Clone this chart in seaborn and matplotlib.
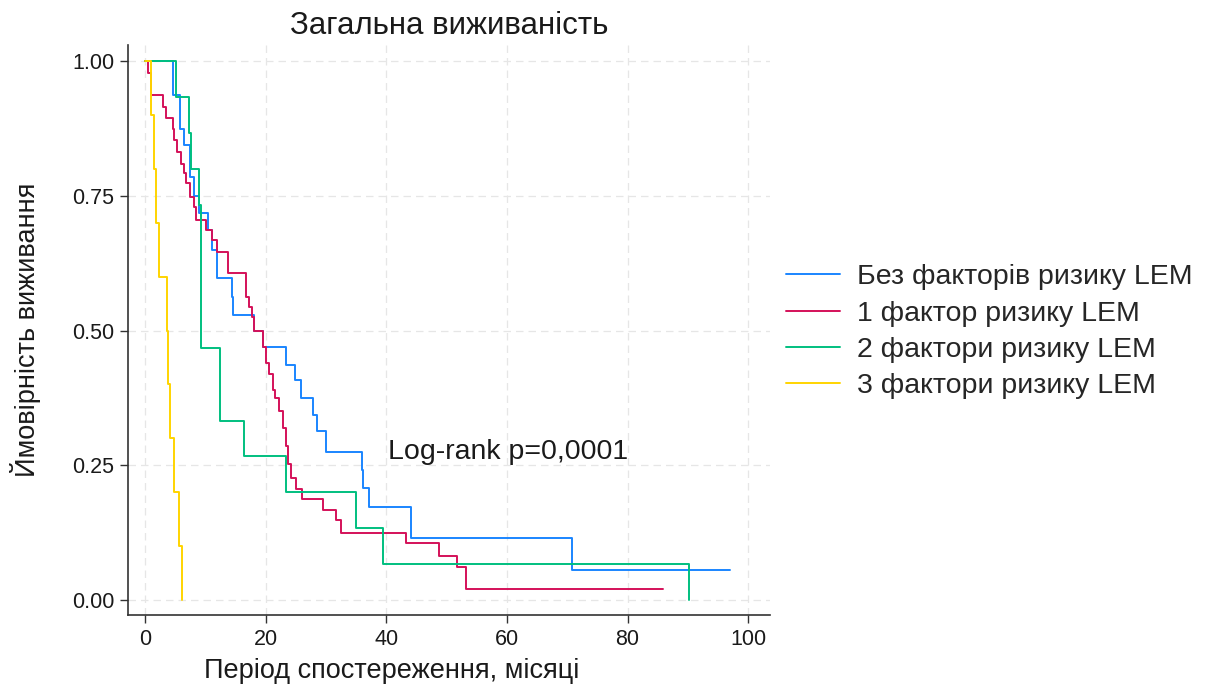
import numpy as np
import pandas as pd
import matplotlib
matplotlib.use("Agg")
import matplotlib.pyplot as plt
import seaborn as sns

# ---- data ----
groups = ["Без факторів ризику LEM", "1 фактор ризику LEM",
          "2 фактори ризику LEM", "3 фактори ризику LEM"]
colors = ["#1a85ff", "#d41159", "#00bf7f", "#ffd400"]

blue_t = [0, 4.6, 5.9, 6.5, 7.4, 8.2, 9.0, 10.4, 11.2, 12.0, 14.5, 14.6, 18.0, 19.5,
          23.4, 24.8, 25.9, 27.8, 28.6, 30.0, 35.9, 36.1, 37.2, 44.1, 70.8, 97.0]
blue_s = [1.0, 0.937, 0.875, 0.845, 0.785, 0.75, 0.718, 0.686, 0.65, 0.597, 0.563, 0.529,
          0.5, 0.469, 0.436, 0.408, 0.375, 0.343, 0.314, 0.275, 0.241, 0.207, 0.173,
          0.114, 0.056, 0.056]

red_t = [0, 0.5, 1.0, 3.0, 3.5, 4.6, 4.9, 5.4, 6.0, 6.5, 6.8, 7.4, 8.2, 8.5, 10.1, 11.2,
         12.0, 13.8, 16.7, 17.3, 17.8, 18.1, 19.5, 20.1, 20.6, 21.2, 21.5, 22.3, 22.9,
         23.4, 23.7, 24.2, 25.1, 26.0, 29.5, 31.7, 32.5, 43.2, 48.8, 51.7, 53.2, 85.9]
red_s = [1.0, 0.978, 0.937, 0.915, 0.894, 0.875, 0.853, 0.832, 0.81, 0.792, 0.773, 0.748,
         0.73, 0.705, 0.686, 0.668, 0.646, 0.607, 0.563, 0.544, 0.526, 0.5, 0.47, 0.44,
         0.42, 0.39, 0.375, 0.35, 0.32, 0.285, 0.253, 0.226, 0.206, 0.188, 0.167, 0.148,
         0.124, 0.105, 0.082, 0.062, 0.02, 0.02]

green_t = [0, 5.2, 7.3, 7.7, 9.0, 9.3, 12.5, 16.5, 23.4, 35.0, 39.4, 90.2]
green_s = [1.0, 0.933, 0.867, 0.8, 0.733, 0.467, 0.333, 0.267, 0.2, 0.133, 0.067, 0.0]

yellow_t = [0, 1.0, 1.5, 1.9, 2.4, 3.7, 3.9, 4.2, 4.9, 5.7, 6.2]
yellow_s = [1.0, 0.9, 0.8, 0.7, 0.6, 0.5, 0.4, 0.3, 0.2, 0.1, 0.0]

x_ticks = [0, 20, 40, 60, 80, 100]
y_ticks = [0.0, 0.25, 0.5, 0.75, 1.0]
y_ticklabels = ["0.00", "0.25", "0.50", "0.75", "1.00"]

title = "Загальна виживаність"
xlabel = "Період спостереження, місяці"
ylabel = "Ймовірність виживання"
annot = "Log-rank p=0,0001"

# ---- build long table ----
frames = []
for g, t, s in zip(groups, [blue_t, red_t, green_t, yellow_t],
                   [blue_s, red_s, green_s, yellow_s]):
    frames.append(pd.DataFrame({"time": t, "surv": s, "group": g}))
df = pd.concat(frames, ignore_index=True)

sns.set_theme(style="white")
plt.rcParams["font.family"] = ["Liberation Sans", "DejaVu Sans"]

fig = plt.figure(figsize=(12.08, 6.95), dpi=100)
ax = fig.add_axes([128 / 1208, 1 - 615 / 695, (770 - 128) / 1208, (615 - 45) / 695])

sns.lineplot(data=df, x="time", y="surv", hue="group", hue_order=groups,
             palette=colors, drawstyle="steps-post", estimator=None, sort=False,
             linewidth=1.4, ax=ax)

ax.set_xlim(-2.8, 103.6)
ax.set_ylim(-0.028, 1.03)
ax.set_xticks(x_ticks)
ax.set_yticks(y_ticks)
ax.set_yticklabels(y_ticklabels)
ax.tick_params(axis="both", labelsize=15.5, length=6, width=1, direction="out",
               color="#333333", labelcolor="#1a1a1a", left=True, bottom=True, pad=4)

ax.grid(True, color="#e6e6e6", linestyle=(0, (6, 4)), linewidth=0.9)
ax.set_axisbelow(True)
for side in ["top", "right"]:
    ax.spines[side].set_visible(False)
for side in ["left", "bottom"]:
    ax.spines[side].set_color("#333333")
    ax.spines[side].set_linewidth(1.2)

ax.set_title(title, fontsize=22.5, color="#1a1a1a", pad=8)
ax.set_xlabel(xlabel, fontsize=19.5, color="#1a1a1a", labelpad=6)
ax.set_ylabel(ylabel, fontsize=19.5, color="#1a1a1a", labelpad=22)
ax.xaxis.set_label_coords(0.41, -0.075)

ax.text(40.3, 0.275, annot, fontsize=20.5, color="#1a1a1a", va="center", ha="left")

sns.move_legend(ax, "center left", bbox_to_anchor=(1.025, 0.497), frameon=False,
                title=None, fontsize=20.5, handlelength=1.9, handletextpad=0.6,
                labelspacing=0.36, borderaxespad=0, borderpad=0)

fig.savefig("out.png", dpi=100)
